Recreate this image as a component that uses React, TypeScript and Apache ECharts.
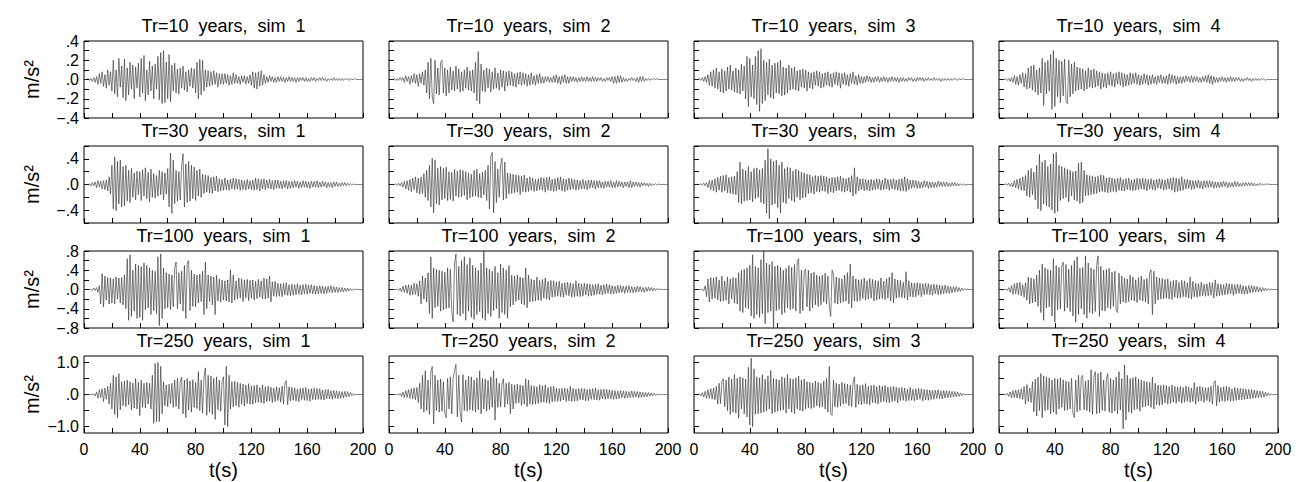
import React, { useEffect, useRef } from 'react';
import * as echarts from 'echarts';

// Sampling step of the hand-read traces (seconds)
const timeStep = 1;
const returnPeriods = [10, 30, 100, 250];
const simulations = [1, 2, 3, 4];

// Accelerations, in cm/s² (divided by 100 for m/s²), one value per second, t = 0..200 s
const tr10sim1 = [
  0,0,0,1,-1,1,-2,2,-3,3,
  -5,6,-4,8,-7,5,-9,10,-6,8,
  -12,20,-15,10,-18,22,-8,14,-19,21,
  -22,12,-16,18,-10,15,-20,13,-9,17,
  -18,22,-14,25,-22,10,-16,19,-12,14,
  -20,16,-10,24,-21,28,-25,30,-24,18,
  -20,26,-23,15,-12,17,-14,11,-15,12,
  -9,14,-11,8,-13,10,-7,12,-9,11,
  -14,18,-20,21,-16,20,-12,10,-8,9,
  -7,8,-6,9,-5,7,-8,6,-5,6,
  -5,6,-4,5,-6,4,-5,7,-4,5,
  -4,3,-5,4,-3,4,-5,3,-4,5,
  -6,8,-9,7,-10,8,-7,9,-6,5,
  -4,3,-3,4,-2,3,-3,2,-3,3,
  -2,3,-2,2,-3,2,-2,3,-2,2,
  -2,2,-3,2,-2,2,-1,2,-2,2,
  -2,1,-2,2,-1,2,-2,1,-1,2,
  -1,2,-1,1,-2,1,-1,1,-1,2,
  -1,1,-1,1,-1,1,-1,1,0,1,
  -1,1,0,0,1,0,0,0,0,0,0,
];
const tr10sim2 = [
  0,0,0,0,1,-1,1,-1,2,-1,
  2,-3,4,-2,3,-5,4,-3,6,-4,
  5,-7,6,-4,8,-6,10,-14,18,-20,
  22,-18,-25,20,-15,12,-16,18,20,-14,
  12,-17,10,-14,13,-11,9,-12,14,-10,
  11,-13,8,-12,10,-9,13,-11,9,-12,
  10,-14,18,-22,29,-25,16,-12,10,-13,
  12,-9,11,-13,8,-10,12,-9,7,-11,
  10,-8,9,-12,8,-7,9,-6,8,-7,
  6,-8,7,-5,8,-6,7,-5,6,-7,
  5,-6,7,-5,4,-6,5,-4,6,-4,
  3,-4,3,-2,3,-3,2,-3,4,-3,
  5,-4,3,-5,4,-3,5,-4,3,-4,
  3,-2,3,-2,2,-3,2,-2,3,-2,
  2,-2,3,-2,2,-2,3,-2,2,-2,
  2,-1,2,-2,1,-2,2,-1,2,-2,
  3,-4,3,-4,4,-3,4,-3,2,-2,
  1,-2,1,-1,2,-1,1,-2,2,-3,
  3,-2,3,-2,1,-1,1,-1,1,0,
  1,0,1,0,0,0,0,0,0,0,0,
];
const tr10sim3 = [
  0,0,0,0,1,-1,2,-2,3,-3,
  5,-6,8,-7,10,-9,12,-10,8,-13,
  11,-14,9,-12,13,-10,15,-11,9,-13,
  12,-14,10,-15,16,-12,14,-20,24,-28,
  22,-18,15,-20,24,-26,30,-33,32,-25,
  20,-22,18,-16,21,-19,15,-20,17,-14,
  18,-15,20,-17,13,-16,12,-14,15,-11,
  12,-10,13,-11,9,-12,10,-8,11,-9,
  10,-12,8,-9,7,-10,8,-6,9,-7,
  8,-9,6,-8,7,-6,8,-7,6,-8,
  7,-5,8,-6,7,-9,6,-5,7,-6,
  5,-7,6,-4,8,-5,4,-6,5,-4,
  3,-4,3,-3,4,-2,3,-3,2,-3,
  3,-2,3,-3,2,-2,3,-2,2,-3,
  2,-2,3,-2,2,-2,2,-3,2,-2,
  2,-2,1,-2,2,-1,2,-2,1,-2,
  2,-1,2,-1,2,-2,1,-1,2,-1,
  1,-1,2,-1,1,-1,1,-2,1,-1,
  1,-1,1,-1,1,-1,1,0,1,-1,
  1,0,0,1,0,0,0,0,0,0,0,
];
const tr10sim4 = [
  0,0,0,0,0,1,-1,1,-2,2,
  -3,4,-5,3,-6,5,-4,7,-8,6,
  -10,12,-9,14,-11,15,-13,10,-16,12,
  -14,22,-27,18,-15,20,-12,26,-31,30,
  -28,22,-18,20,-24,19,-17,21,-22,-25,
  20,-18,16,-15,18,-12,13,-11,12,-10,
  11,-12,9,-10,12,-8,10,-9,11,-8,
  9,-7,8,-10,7,-8,6,-9,7,-6,
  8,-7,6,-8,7,-5,8,-6,7,-8,
  6,-7,5,-6,7,-5,6,-4,7,-5,
  5,-6,4,-5,6,-4,5,-6,4,-5,
  5,-4,3,-5,4,-3,5,-4,3,-4,
  4,-5,6,-4,5,-3,4,-5,3,-4,
  3,-4,3,-3,4,-2,3,-3,4,-3,
  3,-2,3,-3,2,-3,3,-2,4,-3,
  5,-4,4,-5,3,-3,2,-3,2,-2,
  3,-2,2,-3,2,-2,3,-2,2,-2,
  2,-1,2,-2,1,-2,1,-1,2,-1,
  1,-2,1,-1,1,-1,1,-1,1,0,
  1,-1,0,0,0,0,0,0,0,0,0,
];
const tr30sim1 = [
  0,0,0,0,1,-2,3,-2,4,-5,
  6,-4,5,-7,6,-8,7,-10,12,-15,
  30,-38,43,-41,36,-30,38,-35,28,-33,
  30,-26,22,-28,25,-20,18,-24,21,-16,
  20,-25,23,-18,26,-22,19,-27,24,-20,
  17,-21,14,-18,22,-16,20,-24,18,-15,
  25,-35,49,-45,38,-30,22,-26,20,-24,
  30,48,-35,32,-28,36,-26,30,-22,27,
  -25,22,-18,24,-20,16,-14,15,-12,14,
  -13,11,-14,12,-10,13,-11,9,-10,8,
  -9,10,-8,7,-9,8,-7,10,-8,9,
  -7,8,-9,7,-8,6,-9,8,-7,6,
  -8,7,-9,10,-8,9,-10,8,-7,9,
  -8,7,-6,8,-7,6,-8,7,-6,7,
  -6,5,-7,6,-5,6,-7,5,-6,5,
  -5,6,-4,5,-6,4,-5,6,-4,5,
  -5,4,-6,5,-4,5,-4,6,-5,4,
  -4,5,-3,4,-5,3,-4,3,-5,4,
  -3,4,-3,2,-3,3,-2,3,-2,2,
  -1,1,-1,1,0,0,0,0,0,0,0,
];
const tr30sim2 = [
  0,0,0,0,0,1,-1,2,-2,3,
  -4,5,-7,6,-9,8,-11,10,-8,12,
  -13,10,-15,12,-14,17,-20,22,-25,30,
  -35,41,-44,38,-30,26,-32,28,-24,25,
  -22,27,-25,20,-23,19,-26,24,-18,21,
  -20,23,-19,22,-17,20,-24,18,-21,16,
  -19,22,-18,24,-20,17,-21,19,-16,22,
  -25,30,-38,44,50,-44,36,-28,24,-20,
  30,41,-24,35,-22,18,-15,17,-14,16,
  -13,15,-12,14,-16,13,-11,15,-12,10,
  -11,12,-9,10,-11,8,-10,9,-8,11,
  -9,10,-12,11,-9,12,-10,8,-11,9,
  -10,11,-8,12,-10,9,-11,8,-9,10,
  -8,9,-7,8,-9,7,-8,6,-7,8,
  -7,6,-8,7,-6,7,-5,6,-7,6,
  -5,6,-5,4,-6,5,-4,5,-4,6,
  -5,4,-5,6,-4,5,-3,4,-5,4,
  -3,4,-5,6,-5,4,-3,4,-3,3,
  -4,3,-2,3,-2,2,-3,2,-2,1,
  -1,1,-1,1,0,0,0,0,0,0,0,
];
const tr30sim3 = [
  0,0,0,0,0,1,-1,2,-2,3,
  -5,6,-8,7,-10,9,-12,11,-9,13,
  -12,14,-10,15,-13,11,-14,12,-15,13,
  -16,20,-28,35,-30,24,-26,22,-25,28,
  -24,20,-27,25,-22,26,-20,23,-28,25,
  -30,38,-45,56,-53,40,-32,36,-30,38,
  -36,30,-44,35,-28,25,-30,27,-22,26,
  -25,21,-27,24,-20,22,-24,19,-21,18,
  -20,16,-14,15,-13,12,-15,14,-11,13,
  -12,14,-10,13,-11,12,-14,10,-12,11,
  -13,11,-10,12,-9,13,-11,10,-12,9,
  -10,11,-12,14,-18,26,-15,12,-10,9,
  -8,9,-10,8,-9,7,-10,8,-9,7,
  -8,9,-7,8,-9,7,-8,10,-7,8,
  -9,8,-7,9,-8,7,-9,8,-10,9,
  -10,12,-11,9,-8,7,-6,7,-5,6,
  -6,5,-6,4,-5,6,-4,5,-6,4,
  -5,4,-5,3,-4,5,-3,4,-3,4,
  -3,4,-3,2,-3,3,-2,3,-2,2,
  -2,1,-1,1,-1,0,0,0,0,0,0,
];
const tr30sim4 = [
  0,0,0,0,0,1,-1,2,-3,2,
  -4,6,-5,8,-7,10,-9,12,-10,14,
  -18,22,-20,25,-16,19,-24,30,-38,47,
  -41,35,-30,38,-33,28,-35,32,-40,48,
  -45,50,-42,30,-25,28,-22,26,-20,24,
  -27,22,-18,20,-24,21,-26,33,-30,35,
  -28,22,-18,15,-17,14,-16,13,-15,12,
  -14,13,-12,15,-11,14,-12,10,-13,11,
  -12,10,-11,9,-12,10,-9,11,-10,8,
  -10,9,-8,10,-9,7,-10,8,-9,10,
  -8,9,-7,10,-8,9,-10,8,-7,9,
  -8,7,-9,8,-6,9,-7,8,-9,7,
  -8,9,-7,10,-9,11,-12,10,-11,9,
  -10,12,-9,8,-7,8,-6,7,-8,6,
  -7,6,-5,7,-6,5,-7,6,-5,6,
  -5,6,-4,5,-6,4,-5,4,-5,4,
  -4,5,-3,4,-5,3,-4,3,-4,5,
  -3,4,-3,2,-3,3,-2,3,-2,3,
  -2,3,-2,2,-2,1,-2,2,-1,1,
  -1,1,0,1,0,0,0,0,0,0,0,
];
const tr100sim1 = [
  0,0,0,0,0,1,-2,3,-2,4,
  -6,8,-30,33,-36,28,-22,25,-30,24,
  -28,22,-30,26,-20,24,-28,25,-32,30,
  -40,64,-64,72,-56,40,-45,53,-60,50,
  -58,48,-64,55,-42,50,-38,45,-52,40,
  -44,38,-50,68,-75,74,-60,45,-40,35,
  -38,32,-42,30,-36,45,57,-40,35,-30,
  38,-45,50,-60,55,60,-44,40,-35,32,
  -36,30,-28,32,-25,38,-52,57,-40,30,
  -25,28,-32,26,-52,30,-24,22,-26,20,
  -22,18,-24,20,-26,41,-28,30,-22,18,
  -20,24,-18,22,-25,20,-17,21,-23,19,
  -18,20,-22,17,-19,21,-16,18,-20,24,
  -20,22,-18,28,-26,16,-14,17,-15,13,
  -14,12,-15,13,-11,14,-12,10,-13,11,
  -12,10,-11,12,-10,9,-11,10,-9,11,
  -10,9,-8,10,-9,8,-10,7,-9,8,
  -8,7,-9,6,-8,7,-6,8,-7,6,
  -6,5,-6,4,-5,4,-5,3,-4,3,
  -3,2,-2,1,-1,1,0,0,0,0,0,
];
const tr100sim2 = [
  0,0,0,0,0,0,1,-2,3,-5,
  7,-6,9,-8,10,-12,9,-11,13,-10,
  12,-14,18,-30,28,-20,24,-26,35,-50,
  68,-60,45,-38,42,-35,40,-45,38,-42,
  36,-40,45,-38,42,-46,-67,55,74,-52,
  48,-55,60,-50,68,-64,52,-45,66,-58,
  50,-62,45,-52,40,-46,55,-60,80,-64,
  45,-50,42,-56,38,-44,48,-40,35,-60,
  53,-48,45,-52,40,-60,50,-36,30,-32,
  28,-25,30,-22,26,-30,24,-32,45,-38,
  30,-26,22,-25,20,-24,26,-22,19,-23,
  21,-18,24,-20,17,-22,19,-16,18,-15,
  16,-14,17,-15,13,-16,14,-12,15,-13,
  14,-16,12,-15,18,-14,13,-15,12,-14,
  13,-11,12,-14,11,-13,10,-12,11,-10,
  12,-10,9,-11,10,-9,11,-8,10,-9,
  8,-9,7,-8,9,-7,8,-6,7,-8,
  7,-6,8,-7,6,-7,5,-6,7,-5,
  6,-5,4,-6,5,-4,5,-3,4,-3,
  3,-2,2,-1,1,0,0,0,0,0,0,
];
const tr100sim3 = [
  0,0,0,0,0,0,1,-3,8,-15,
  22,-26,25,-20,24,-18,26,-22,20,-25,
  28,-24,18,-22,26,-30,22,-20,25,-28,
  24,-30,35,-45,40,-48,42,-38,45,-40,
  50,-55,72,-60,48,-52,45,-58,62,-50,
  80,-71,55,-48,52,-45,58,-79,48,-44,
  50,-42,46,-52,40,-48,44,-38,50,-42,
  46,-40,52,-45,58,64,-50,40,-44,38,
  42,-36,40,-45,34,-38,36,-32,30,-35,
  28,-32,30,-26,34,-30,28,-36,-56,40,
  32,-28,26,-30,24,-28,22,-26,30,-24,
  35,-30,53,-38,28,-24,22,-25,20,-23,
  21,-19,24,-22,18,-20,23,-18,21,-24,
  19,-22,18,-20,24,-19,17,-21,22,-18,
  26,-24,35,-28,22,-18,20,-16,19,-17,
  15,-18,37,-22,18,-15,14,-16,13,-15,
  14,-12,13,-15,12,-11,13,-10,12,-11,
  10,-12,11,-9,10,-11,9,-10,8,-9,
  9,-8,7,-8,6,-7,6,-5,6,-5,
  4,-4,3,-2,2,-1,1,0,0,0,0,
];
const tr100sim4 = [
  0,0,0,0,0,1,-2,4,-6,8,
  -10,12,-9,14,-11,15,-13,10,-16,14,
  -22,26,-30,24,-28,22,-26,30,-35,40,
  -48,53,-64,45,-38,42,-36,40,-55,64,
  -68,50,-42,46,-40,48,57,-45,52,-38,
  42,-46,50,-55,60,-68,68,-52,44,-40,
  46,-52,70,-60,55,-48,45,-50,42,-46,
  50,70,-56,48,-44,40,-45,42,-38,44,
  -40,36,-35,38,-42,-48,34,-30,28,-26,
  24,-28,22,-25,30,-22,26,-24,20,-27,
  25,-22,28,-24,21,-26,23,-30,35,41,
  -52,38,-30,26,-22,24,-20,23,-19,21,
  -18,22,-20,17,-21,19,-16,20,-18,15,
  -17,19,-15,18,-16,14,-18,26,-20,17,
  -15,13,-16,12,-14,15,-13,11,-14,12,
  -13,15,-12,14,-18,20,-14,12,-13,11,
  -12,10,-11,13,-10,12,-9,11,-12,10,
  -9,11,-8,10,-9,8,-10,7,-9,8,
  -7,8,-6,7,-5,6,-5,4,-5,4,
  -3,3,-2,2,-1,1,0,0,0,0,0,
];
const tr250sim1 = [
  0,0,0,0,0,0,0,2,-5,8,
  -12,15,-10,18,-22,20,-15,25,-30,35,
  -45,60,-62,55,-72,65,-48,40,-35,42,
  -38,45,-32,40,-48,36,-42,50,-45,38,
  -66,45,-40,35,-42,38,-30,35,-45,60,
  -90,97,-85,100,-84,88,-60,40,-35,30,
  -38,32,-28,35,-40,45,-38,50,-45,42,
  54,-60,45,-72,50,-48,42,-55,46,-40,
  38,-44,71,-50,45,-58,52,83,-65,60,
  -55,58,-62,50,-78,55,-48,45,-52,40,
  55,-95,88,-100,60,-45,40,-38,42,-35,
  38,-40,35,-30,32,-36,30,-28,34,-30,
  26,-30,28,-25,30,-24,22,-26,30,-28,
  24,-22,26,-20,23,-25,20,-22,24,-19,
  21,-24,26,-30,35,43,-32,24,-20,22,
  -18,21,-20,17,-22,19,-16,20,-18,22,
  -19,17,-21,18,-16,20,-17,19,-15,18,
  -16,14,-17,15,-13,16,-14,12,-15,13,
  -12,11,-13,10,-12,9,-11,10,-8,9,
  -7,6,-4,3,-2,1,0,0,0,0,0,
];
const tr250sim2 = [
  0,0,0,0,0,0,1,-2,4,-6,
  8,-10,12,-9,15,-12,18,-14,20,-16,
  22,-25,35,-45,60,-55,74,-50,45,-62,
  70,87,-92,60,-50,45,-55,48,-52,40,
  -58,-73,50,-45,55,-60,52,75,94,-70,
  60,-55,-86,62,-50,45,-52,58,-48,55,
  -50,45,-55,52,-48,74,-60,50,-45,48,
  -52,44,-46,55,-40,74,-80,50,-40,35,
  -38,32,49,-40,35,-30,38,-60,32,-45,
  30,-28,32,-26,30,-34,28,-30,49,-38,
  45,-30,28,-32,26,-30,24,-28,30,-25,
  27,-24,30,-26,22,-28,25,-23,26,-21,
  20,-22,18,-21,19,-17,20,-22,18,-20,
  25,-22,19,-21,17,-20,18,-16,19,-17,
  18,-20,16,-19,17,-15,18,-16,20,-17,
  15,-18,16,-14,17,-15,16,-13,15,-14,
  13,-15,12,-14,11,-13,12,-10,11,-12,
  10,-11,9,-10,11,-9,10,-8,9,-10,
  8,-9,7,-8,6,-7,6,-5,5,-4,
  4,-3,2,-2,1,0,0,0,0,0,0,
];
const tr250sim3 = [
  0,0,1,-2,3,-4,6,-8,10,-12,
  15,-12,18,-14,20,-16,25,-30,35,-28,
  42,49,-38,45,-50,55,-62,48,-55,62,
  -58,50,-74,55,-45,52,-60,48,-70,85,
  -95,113,-100,80,-62,55,-60,52,-58,62,
  -55,48,-52,58,-45,75,-60,50,-55,48,
  -52,45,-50,55,-48,52,-58,62,-45,50,
  -55,48,-60,52,-45,58,-50,45,-52,48,
  -45,40,-42,38,-44,36,-40,42,-35,38,
  -40,35,-38,42,-45,50,-55,88,-60,-65,
  45,-38,35,-40,32,-36,38,-30,34,-28,
  32,-35,30,-38,36,55,-40,32,-30,28,
  -32,30,-28,34,-30,26,-32,28,-25,30,
  -27,25,-30,28,-24,26,-22,28,-25,23,
  -26,24,-22,25,-20,23,-26,21,-19,22,
  -18,20,-21,17,-19,22,-18,16,-20,18,
  -17,19,-15,18,-20,16,-17,15,-18,14,
  -16,13,-15,14,-12,15,-13,11,-14,12,
  -11,12,-10,11,-9,10,-8,9,-7,8,
  -6,5,-4,3,-2,1,0,0,0,0,0,
];
const tr250sim4 = [
  0,0,0,0,1,-2,4,-6,8,-10,
  12,-9,14,-11,15,-13,18,-15,25,-30,
  31,-22,20,-25,40,-54,48,-67,54,-50,
  65,-72,58,-50,55,-48,52,-60,45,-55,
  50,-62,48,-45,52,-40,46,-50,42,-48,
  40,-45,50,-58,-72,45,-55,60,-50,55,
  60,-48,42,-50,45,-55,77,-62,55,71,
  -60,65,-58,70,-50,45,-52,48,65,-55,
  50,-58,45,-52,55,-60,71,-48,50,-107,
  92,-80,60,-55,50,-58,52,-48,55,-45,
  48,-52,45,-40,42,-38,40,-35,38,-40,
  54,-45,35,-32,30,-34,28,-32,30,-26,
  28,-30,25,-28,30,-24,26,-28,24,-22,
  25,-27,22,-24,26,-21,23,-25,20,-22,
  37,-30,24,-22,26,-20,23,-25,21,-19,
  22,-24,26,-30,35,43,-35,28,-24,22,
  -20,24,-22,26,-19,23,-21,18,-20,22,
  -18,20,-17,19,-16,18,-15,17,-14,16,
  -13,15,-12,14,-11,12,-10,11,-9,10,
  -8,7,-5,4,-3,2,-1,0,0,0,0,
];

const traces = [
  [tr10sim1, tr10sim2, tr10sim3, tr10sim4],
  [tr30sim1, tr30sim2, tr30sim3, tr30sim4],
  [tr100sim1, tr100sim2, tr100sim3, tr100sim4],
  [tr250sim1, tr250sim2, tr250sim3, tr250sim4],
];

// Axis settings
const yLimits = [0.4, 0.6, 0.8, 1.2];
const yTickValues = [
  [-0.4, -0.3, -0.2, -0.1, 0, 0.1, 0.2, 0.3, 0.4],
  [-0.6, -0.4, -0.2, 0, 0.2, 0.4, 0.6],
  [-0.8, -0.6, -0.4, -0.2, 0, 0.2, 0.4, 0.6, 0.8],
  [-1, -0.5, 0, 0.5, 1],
];
const yLabelValues = [
  [-0.4, -0.2, 0, 0.2, 0.4],
  [-0.4, 0, 0.4],
  [-0.8, -0.4, 0, 0.4, 0.8],
  [-1, 0, 1],
];
const xTickValues = [0, 20, 40, 60, 80, 100, 120, 140, 160, 180, 200];
const xLabelValues = [0, 40, 80, 120, 160, 200];

// Layout (px)
const W = 1311;
const H = 482;
const gridLefts = [84, 389, 694, 999];
const gridTops = [41, 146, 251, 356];
const gridW = 279;
const gridH = 77;
const FONT = '"Liberation Sans", Arial, sans-serif';

function fmtY(v: number | string): string {
  const r = Math.round(Number(v) * 100) / 100;
  if (r === 0) return '.0';
  const a = Math.abs(r);
  const s = a >= 1 ? a.toFixed(1) : a.toFixed(1).replace(/^0/, '');
  return (r < 0 ? '\u2212' : '') + s;
}

export default function App() {
  const ref = useRef<HTMLDivElement>(null);
  useEffect(() => {
    document.body.style.margin = '0';
    if (!ref.current) return;
    const chart = echarts.init(ref.current, undefined, { renderer: 'svg' });
    const grid: any[] = [];
    const xAxis: any[] = [];
    const yAxis: any[] = [];
    const series: any[] = [];
    const graphic: any[] = [];
    returnPeriods.forEach((tr, r) => {
      simulations.forEach((sim, c) => {
        const idx = r * 4 + c;
        grid.push({
          left: gridLefts[c], top: gridTops[r], width: gridW, height: gridH,
          show: true, borderColor: '#000', borderWidth: 1, backgroundColor: 'transparent',
        });
        const bottomRow = r === returnPeriods.length - 1;
        xAxis.push({
          type: 'value', gridIndex: idx, min: 0, max: 200, position: 'bottom',
          axisLine: { show: false, onZero: false },
          splitLine: { show: false },
          axisTick: { show: true, inside: true, length: 5, customValues: xTickValues, lineStyle: { color: '#000', width: 1 } },
          axisLabel: {
            show: bottomRow, customValues: xLabelValues, margin: 8,
            fontFamily: FONT, fontSize: 16, color: '#000',
          },
          name: bottomRow ? 't(s)' : '',
          nameLocation: 'middle', nameGap: 27,
          nameTextStyle: { fontFamily: FONT, fontSize: 20, color: '#000' },
        });
        yAxis.push({
          type: 'value', gridIndex: idx, min: -yLimits[r], max: yLimits[r],
          axisLine: { show: false },
          splitLine: { show: false },
          axisTick: { show: true, inside: true, length: 5, customValues: yTickValues[r], lineStyle: { color: '#000', width: 1 } },
          axisLabel: {
            show: c === 0, customValues: yLabelValues[r], margin: 5,
            formatter: (v: number) => fmtY(v),
            fontFamily: FONT, fontSize: 16, color: '#000',
          },
          name: c === 0 ? 'm/s\u00b2' : '',
          nameLocation: 'middle', nameRotate: 90, nameGap: 42,
          nameTextStyle: { fontFamily: FONT, fontSize: 20, color: '#000' },
        });
        series.push({
          type: 'line', xAxisIndex: idx, yAxisIndex: idx,
          data: traces[r][c].map((v, i) => [i * timeStep, v / 100]),
          showSymbol: false, symbol: 'none', silent: true, clip: true,
          lineStyle: { color: '#2a2a2a', width: 0.6 },
        });
        graphic.push({
          type: 'text',
          x: gridLefts[c] + gridW / 2,
          y: gridTops[r] - 15,
          style: {
            text: `Tr=${tr}  years,  sim  ${sim}`,
            fill: '#000',
            font: `18px ${FONT}`,
            align: 'center', verticalAlign: 'middle',
            textAlign: 'center', textVerticalAlign: 'middle',
          },
        });
      });
    });
    chart.setOption({
      animation: false,
      backgroundColor: '#fff',
      grid, xAxis, yAxis, series, graphic,
    });
    return () => chart.dispose();
  }, []);
  return <div ref={ref} style={{ width: W, height: H }} />;
}
